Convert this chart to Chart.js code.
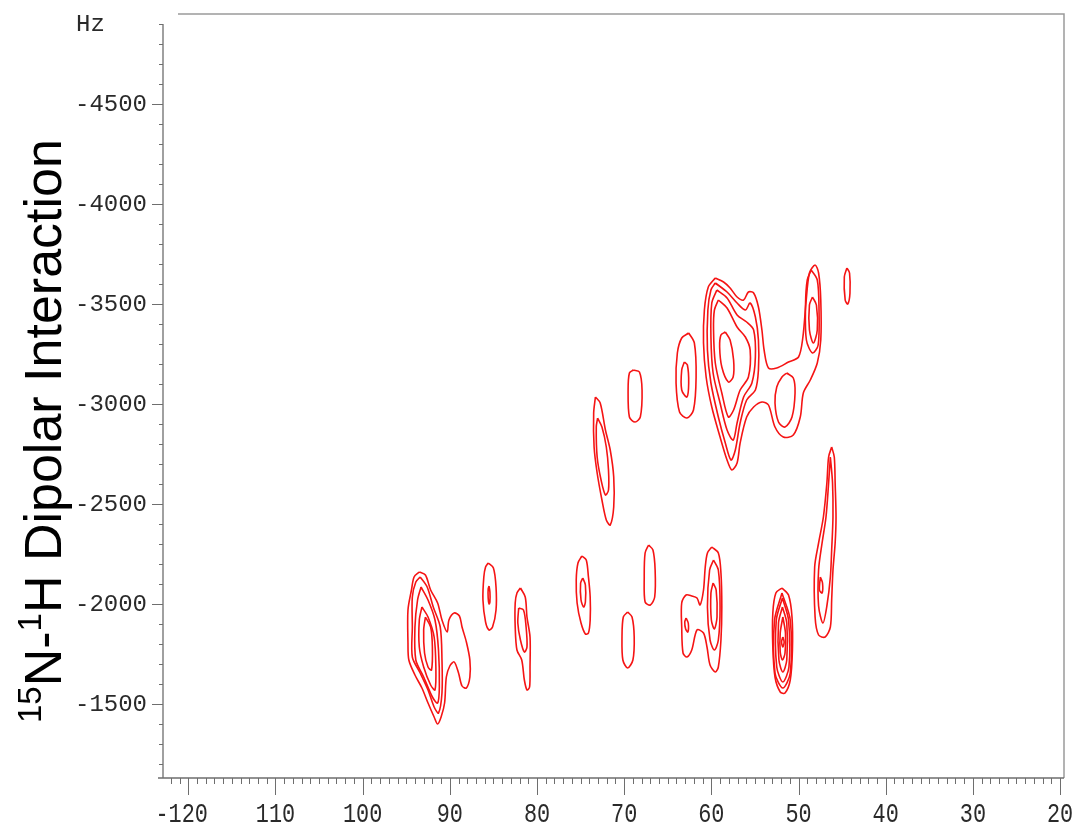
<!DOCTYPE html>
<html>
<head>
<meta charset="utf-8">
<script src="https://cdn.jsdelivr.net/npm/chart.js@4.4.1/dist/chart.umd.min.js"></script>
<style>
  html, body { margin: 0; padding: 0; background: #fff; }
  #wrap { width: 1080px; height: 833px; position: relative; }
</style>
</head>
<body>
<div id="wrap"><canvas id="nmrChart"></canvas></div>
<script>
// axis ticks
var xTickValues = [120, 110, 100, 90, 80, 70, 60, 50, 40, 30, 20];
var xTickLabels = ['-120', '110', '100', '90', '80', '70', '60', '50', '40', '30', '20'];
var yTickValues = [-4500, -4000, -3500, -3000, -2500, -2000, -1500];
var yTickLabels = ['-4500', '-4000', '-3500', '-3000', '-2500', '-2000', '-1500'];
var yUnitLabel = 'Hz';

// contour rings, [ppm, Hz] points, outer ring first
var peak92 = [
  [[93.5,-2160],[92.8,-2145],[92.2,-2070],[91.4,-2005],[90.9,-1920],[90.3,-1860],[90.1,-1920],[89.5,-1955],[88.9,-1940],[88.6,-1885],[88.1,-1810],[87.7,-1720],[87.7,-1635],[88.1,-1580],[88.6,-1590],[89.0,-1655],[89.5,-1710],[90.0,-1690],[90.4,-1635],[90.6,-1505],[91.0,-1435],[91.4,-1400],[91.8,-1435],[92.5,-1505],[93.2,-1580],[94.0,-1645],[94.7,-1720],[94.8,-1805],[94.8,-1970],[94.4,-2070],[94.1,-2135]],
  [[93.4,-2135],[92.6,-2085],[91.9,-1985],[91.1,-1885],[90.9,-1720],[90.9,-1555],[91.3,-1455],[91.8,-1485],[92.5,-1570],[93.4,-1655],[94.3,-1735],[94.3,-1885],[94.3,-2035],[93.9,-2110]],
  [[93.3,-2085],[92.5,-2020],[91.7,-1920],[91.3,-1770],[91.2,-1585],[91.4,-1505],[92.0,-1535],[93.0,-1635],[93.9,-1720],[94.0,-1885],[93.7,-2020]],
  [[93.2,-1985],[92.5,-1935],[91.8,-1835],[91.6,-1685],[91.7,-1570],[92.2,-1595],[93.0,-1685],[93.5,-1785],[93.5,-1920]],
  [[92.8,-1935],[92.2,-1885],[92.0,-1785],[92.1,-1670],[92.5,-1685],[92.9,-1755],[93.0,-1870]]
];
var peak85 = [
  [[85.6,-2205],[85.0,-2180],[84.7,-2085],[84.7,-1970],[85.1,-1885],[85.5,-1870],[85.9,-1910],[86.2,-2020],[86.1,-2135],[85.9,-2185]],
  [[85.5,-2090],[85.4,-2060],[85.4,-2010],[85.5,-2000],[85.6,-2030],[85.6,-2075]]
];
var peak81 = [
  [[81.9,-2080],[81.35,-2035],[81.15,-1935],[80.8,-1835],[80.8,-1685],[80.85,-1585],[81.15,-1570],[81.45,-1620],[81.75,-1720],[82.3,-1770],[82.5,-1885],[82.5,-2005],[82.3,-2055]],
  [[82.1,-1980],[81.55,-1970],[81.25,-1885],[81.15,-1785],[81.45,-1760],[81.9,-1820],[82.2,-1905]]
];
var peak74 = [
  [[74.85,-2240],[74.35,-2220],[74.1,-2135],[73.9,-2035],[73.9,-1920],[74.1,-1855],[74.45,-1850],[74.95,-1905],[75.4,-2005],[75.5,-2120],[75.3,-2205]],
  [[74.75,-2130],[74.45,-2095],[74.45,-2010],[74.65,-1985],[74.95,-2020],[75.0,-2105]]
];
var peak67 = [
  [[67.2,-2295],[66.7,-2270],[66.45,-2170],[66.5,-2035],[67.0,-1995],[67.6,-2010],[67.7,-2135],[67.6,-2255]]
];
var peak70 = [
  [[69.6,-1960],[69.1,-1935],[68.85,-1835],[69.0,-1720],[69.6,-1680],[70.15,-1720],[70.25,-1835],[70.1,-1935]]
];
var peak60 = [
  [[59.95,-2285],[59.2,-2255],[58.9,-2155],[58.8,-1985],[58.9,-1820],[59.2,-1685],[59.55,-1660],[60.15,-1695],[60.5,-1785],[60.9,-1855],[61.65,-1870],[62.25,-1770],[62.8,-1735],[63.25,-1755],[63.4,-1885],[63.4,-2005],[62.9,-2045],[62.25,-2040],[61.65,-2030],[61.3,-1995],[60.9,-2070],[60.7,-2185],[60.45,-2255]],
  [[59.75,-2220],[59.2,-2170],[59.0,-1985],[59.2,-1820],[59.65,-1770],[60.15,-1820],[60.45,-1985],[60.2,-2170]],
  [[59.8,-2105],[59.45,-2070],[59.35,-1935],[59.65,-1875],[60.0,-1920],[60.05,-2055]],
  [[62.9,-1930],[62.65,-1905],[62.7,-1860],[62.95,-1875],[63.05,-1910]]
];
var peak52 = [
  [[51.9,-2080],[51.15,-2045],[50.75,-1935],[50.7,-1770],[50.95,-1620],[51.55,-1555],[52.1,-1560],[52.7,-1635],[52.95,-1785],[52.95,-1955],[52.6,-2055]],
  [[51.9,-2055],[50.95,-1920],[50.95,-1655],[51.8,-1580],[52.7,-1655],[52.75,-1920]],
  [[51.85,-2030],[51.15,-1920],[51.1,-1685],[51.8,-1610],[52.5,-1685],[52.55,-1920]],
  [[51.85,-1985],[51.35,-1905],[51.35,-1720],[51.8,-1660],[52.25,-1720],[52.3,-1905]],
  [[51.8,-1935],[51.5,-1855],[51.55,-1755],[51.85,-1720],[52.1,-1760],[52.1,-1855]],
  [[51.8,-1835],[51.65,-1810],[51.8,-1785],[51.95,-1810]]
];
var peak47 = [
  [[46.2,-2785],[45.9,-2735],[45.8,-2605],[45.7,-2435],[45.8,-2305],[46.05,-2170],[46.2,-2020],[46.35,-1885],[46.95,-1835],[47.7,-1845],[48.1,-1935],[48.15,-2185],[47.7,-2305],[47.15,-2435],[46.75,-2605],[46.55,-2735]],
  [[46.35,-2735],[46.1,-2605],[46.05,-2435],[46.2,-2270],[46.35,-2135],[46.75,-1990],[47.2,-1905],[47.7,-1990],[47.7,-2170],[47.3,-2305],[46.85,-2435],[46.55,-2605]],
  [[47.5,-2135],[47.25,-2105],[47.3,-2055],[47.6,-2070]]
];
var peak72 = [
  [[73.3,-3035],[72.75,-3005],[72.15,-2870],[71.6,-2770],[71.2,-2635],[71.2,-2485],[71.6,-2395],[72.05,-2420],[72.55,-2520],[73.1,-2655],[73.45,-2785],[73.5,-2955]],
  [[73.05,-2930],[72.55,-2885],[72.05,-2785],[71.8,-2670],[71.8,-2570],[72.15,-2545],[72.65,-2620],[73.1,-2735],[73.2,-2885]]
];
var peak69 = [
  [[68.95,-3170],[68.25,-3160],[67.95,-3070],[68.15,-2935],[68.75,-2910],[69.4,-2935],[69.55,-3070],[69.4,-3155]]
];
var peak63 = [
  [[62.6,-3355],[61.95,-3305],[61.75,-3135],[62.05,-2970],[62.8,-2930],[63.65,-2960],[64.05,-3105],[63.9,-3255],[63.4,-3330]],
  [[63.1,-3210],[62.75,-3195],[62.6,-3105],[62.8,-3035],[63.4,-3070],[63.4,-3170]]
];
var peak58 = [
  [[59.55,-3630],[58.6,-3610],[57.85,-3580],[57.05,-3535],[56.3,-3520],[55.75,-3560],[55.15,-3555],[54.6,-3485],[54.2,-3370],[53.95,-3270],[53.45,-3180],[52.5,-3180],[51.15,-3210],[50.0,-3235],[49.5,-3335],[49.15,-3505],[48.75,-3655],[48.1,-3695],[47.7,-3655],[47.45,-3520],[47.45,-3320],[47.85,-3205],[48.65,-3120],[49.45,-3055],[49.8,-2935],[50.6,-2845],[51.75,-2835],[52.7,-2885],[53.45,-2995],[54.2,-3010],[55.15,-2985],[55.95,-2935],[56.7,-2805],[57.05,-2705],[57.65,-2670],[58.2,-2720],[59.0,-2835],[59.95,-2985],[60.6,-3135],[60.9,-3305],[60.8,-3470],[60.35,-3585]],
  [[59.55,-3605],[58.2,-3560],[57.05,-3505],[56.1,-3470],[55.55,-3505],[54.95,-3435],[54.6,-3320],[54.6,-3170],[54.95,-3070],[55.95,-3020],[56.7,-2905],[57.25,-2770],[57.75,-2720],[58.4,-2805],[59.2,-2935],[60.05,-3105],[60.45,-3270],[60.4,-3470],[60.05,-3570]],
  [[59.37,-3570],[58.2,-3530],[57.05,-3445],[55.95,-3410],[55.15,-3370],[54.95,-3235],[55.35,-3105],[56.3,-3035],[57.05,-2905],[57.5,-2820],[58.2,-2870],[59.0,-3005],[59.8,-3155],[60.05,-3335],[59.95,-3505]],
  [[59.2,-3520],[58.2,-3480],[57.05,-3385],[56.1,-3335],[55.55,-3270],[55.75,-3135],[56.7,-3070],[57.45,-2970],[58.05,-2935],[58.8,-3055],[59.55,-3205],[59.75,-3370],[59.65,-3470]],
  [[58.4,-3360],[57.85,-3320],[57.45,-3220],[57.5,-3135],[58.05,-3110],[58.8,-3185],[59.05,-3285],[58.9,-3345]],
  [[51.35,-3155],[50.6,-3130],[50.4,-3055],[50.75,-2935],[51.55,-2885],[52.3,-2910],[52.7,-3005],[52.5,-3085],[51.9,-3135]]
];
var peak48 = [
  [[48.55,-3670],[47.85,-3620],[47.65,-3470],[47.75,-3295],[48.4,-3255],[49.1,-3320],[49.2,-3495],[49.0,-3620]],
  [[48.4,-3535],[47.95,-3495],[47.85,-3370],[48.3,-3305],[48.75,-3370],[48.75,-3495]]
];
var peak44 = [
  [[44.45,-3680],[44.15,-3655],[44.1,-3555],[44.35,-3500],[44.65,-3520],[44.75,-3635]]
];

var contourColor = 'rgba(245, 20, 20, 1)';

var allPeaks = [peak92, peak85, peak81, peak74, peak67, peak70, peak60, peak52, peak47, peak72, peak69, peak63, peak58, peak48, peak44];
var datasets = [];
allPeaks.forEach(function(peak) {
  peak.forEach(function(ring) {
    var pts = ring.map(function(p) { return { x: p[0], y: p[1] }; });
    pts.push({ x: ring[0][0], y: ring[0][1] });
    datasets.push({
      data: pts,
      showLine: true,
      fill: false,
      borderColor: contourColor,
      borderWidth: 1.6,
      pointRadius: 0,
      tension: 0.3
    });
  });
});

// axes, frame and the rotated title
var axisFramePlugin = {
  id: 'axisFrame',
  afterDraw: function(chart) {
    var ctx = chart.ctx;
    var xs = chart.scales.x;
    var ys = chart.scales.y;
    var area = chart.chartArea;
    var v, px, py, i;
    ctx.save();

    // light frame on top and right
    ctx.strokeStyle = '#9a9a9a';
    ctx.lineWidth = 1.5;
    ctx.beginPath();
    ctx.moveTo(area.left + 15, area.top);
    ctx.lineTo(area.right, area.top);
    ctx.lineTo(area.right, area.bottom);
    ctx.stroke();

    // axis lines
    ctx.strokeStyle = '#6e6e6e';
    ctx.lineWidth = 1.3;
    ctx.beginPath();
    ctx.moveTo(area.left, area.top + 10);
    ctx.lineTo(area.left, area.bottom);
    ctx.moveTo(area.left - 5, area.bottom);
    ctx.lineTo(area.right, area.bottom);
    ctx.stroke();

    // x ticks
    ctx.lineWidth = 1;
    ctx.beginPath();
    for (v = 122; v >= 20; v--) {
      px = Math.round(xs.getPixelForValue(v)) + 0.5;
      ctx.moveTo(px, area.bottom);
      ctx.lineTo(px, area.bottom + (v % 10 === 0 ? 17 : 6));
    }
    // y ticks
    for (v = -4900; v <= -1200; v += 100) {
      py = Math.round(ys.getPixelForValue(v)) + 0.5;
      ctx.moveTo(area.left, py);
      ctx.lineTo(area.left - (v % 500 === 0 ? 11 : 4), py);
    }
    ctx.stroke();

    // y labels
    ctx.fillStyle = '#2a2a2a';
    ctx.font = '24px "Liberation Mono", "DejaVu Sans Mono", monospace';
    ctx.textAlign = 'right';
    ctx.textBaseline = 'middle';
    for (i = 0; i < yTickValues.length; i++) {
      ctx.fillText(yTickLabels[i], area.left - 16, ys.getPixelForValue(yTickValues[i]) + 1);
    }
    ctx.textAlign = 'left';
    ctx.fillText(yUnitLabel, 76, 25);

    // x labels, narrow and tall
    ctx.font = '28px "Liberation Mono", "DejaVu Sans Mono", monospace';
    ctx.textAlign = 'left';
    for (i = 0; i < xTickValues.length; i++) {
      var label = xTickLabels[i];
      var digits = label.replace('-', '');
      var scaleX = 0.78;
      var wDigits = ctx.measureText(digits).width * scaleX;
      var wFull = ctx.measureText(label).width * scaleX;
      px = xs.getPixelForValue(xTickValues[i]);
      ctx.save();
      ctx.translate(px + wDigits / 2 - wFull, 815);
      ctx.scale(scaleX, 1);
      ctx.fillText(label, 0, 0);
      ctx.restore();
    }

    // rotated y title with superscripts
    var parts = [
      { t: '15', sup: true },
      { t: 'N-', sup: false },
      { t: '1', sup: true },
      { t: 'H Dipolar Interaction', sup: false }
    ];
    ctx.save();
    ctx.translate(61, 723);
    ctx.rotate(-Math.PI / 2);
    ctx.fillStyle = '#000';
    ctx.textBaseline = 'alphabetic';
    ctx.textAlign = 'left';
    var pos = 0;
    parts.forEach(function(p) {
      ctx.font = (p.sup ? '33px' : '52px') + ' "Liberation Sans", Arial, sans-serif';
      ctx.fillText(p.t, pos, p.sup ? -20 : 0);
      pos += ctx.measureText(p.t).width;
    });
    ctx.restore();

    ctx.restore();
  }
};

var ctxMain = document.getElementById('nmrChart').getContext('2d');
new Chart(ctxMain, {
  type: 'scatter',
  data: { datasets: datasets },
  options: {
    responsive: true,
    maintainAspectRatio: false,
    animation: false,
    layout: {
      padding: { left: 163, top: 14, right: 16, bottom: 55 }
    },
    plugins: {
      legend: { display: false },
      tooltip: { enabled: false }
    },
    scales: {
      x: {
        type: 'linear',
        reverse: true,
        min: 19.55,
        max: 122.9,
        display: false
      },
      y: {
        type: 'linear',
        reverse: true,
        min: -4950,
        max: -1130,
        display: false
      }
    }
  },
  plugins: [axisFramePlugin]
});
</script>
</body>
</html>
